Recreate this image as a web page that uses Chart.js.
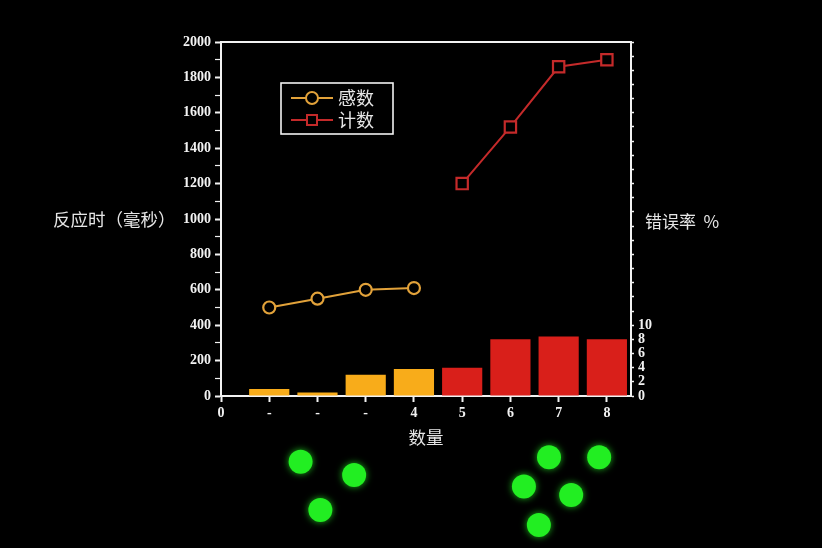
<!DOCTYPE html>
<html><head><meta charset="utf-8">
<script src="https://cdn.jsdelivr.net/npm/chart.js@4.4.1/dist/chart.umd.min.js"></script>
<style>html,body{margin:0;padding:0;background:#000;}
#wrap{position:relative;width:822px;height:548px;}
#c{position:absolute;left:0;top:0;}
#d{position:absolute;left:0;top:396px;}</style>
</head><body>
<div id="wrap">
<canvas id="c" width="822" height="548"></canvas>
<canvas id="d" width="822" height="152"></canvas>
</div>
<script>
// ---- data ----
const xTickLabels = ['0', '-', '-', '-', '4', '5', '6', '7', '8'];
const subitizeX = [1, 2, 3, 4];
const subitizeRT = [500, 550, 600, 610];
const countX = [5, 6, 7, 8];
const countRT = [1200, 1520, 1860, 1900];
const subitizeErr = [1.0, 0.5, 3.0, 3.8];
const countErr = [4.0, 8.0, 8.4, 8.0];
// green dots below the plot (x in quantity units, y in the same ms units, below zero)
const dotsX = [1.65, 2.76, 2.06, 6.80, 7.84, 6.28, 7.26, 6.59];
const dotsY = [-371, -446, -644, -346, -346, -512, -559, -729];
const legendLabels = ['感数', '计数'];
const leftTitle = '反应时（毫秒）';
const rightTitle = '错误率 %';
const bottomTitle = '数量';

const ORANGE_LINE = '#E2A23A', RED_LINE = '#C42A2A';
const ORANGE_BAR = '#F8AC1A', RED_BAR = '#D91F1A';
const WHITE = '#F2F2F2';
const tickFont = { family: 'Liberation Serif', size: 14, weight: 'bold' };
const cjk = '"Noto Sans CJK SC", sans-serif';

const pts = (xs, ys) => xs.map((x, i) => ({ x, y: ys[i] }));

const bgPlugin = {
  id: 'bg',
  beforeDraw(chart) {
    const c = chart.ctx; c.save(); c.fillStyle = '#000';
    c.fillRect(0, 0, chart.width, chart.height); c.restore();
  },
  afterDraw(chart) {
    const c = chart.ctx, a = chart.chartArea;
    c.save();
    c.strokeStyle = WHITE; c.lineWidth = 2;
    c.beginPath(); c.moveTo(a.left, a.top); c.lineTo(a.right, a.top); c.stroke();
    c.fillStyle = '#E6E6E6'; c.textBaseline = 'middle';
    c.font = '17.5px ' + cjk;
    c.textAlign = 'left';
    c.fillText(leftTitle, 53, (a.top + a.bottom) / 2);
    c.font = '17px ' + cjk;
    c.fillText(rightTitle.replace(' ', '  '), a.right + 14, (a.top + a.bottom) / 2 + 3);
    c.font = '17.5px ' + cjk;
    c.textAlign = 'center';
    c.fillText(bottomTitle, 426, a.bottom + 41);
    // legend box
    const lx = a.left + 60, ly = a.top + 41, lw = 112, lh = 51;
    c.strokeStyle = WHITE; c.lineWidth = 1.6;
    c.strokeRect(lx, ly, lw, lh);
    [chart.data.datasets[0], chart.data.datasets[1]].forEach((ds, i) => {
      const y = ly + 15 + i * 22;
      c.strokeStyle = ds.borderColor; c.lineWidth = 2;
      c.beginPath(); c.moveTo(lx + 10, y); c.lineTo(lx + 52, y); c.stroke();
      c.fillStyle = '#000'; c.lineWidth = 2;
      if (ds.pointStyle === 'circle') {
        c.beginPath(); c.arc(lx + 31, y, 6, 0, Math.PI * 2); c.fill(); c.stroke();
      } else {
        c.fillRect(lx + 26, y - 5, 10, 10); c.strokeRect(lx + 26, y - 5, 10, 10);
      }
      c.fillStyle = '#E6E6E6'; c.font = '18px ' + cjk; c.textAlign = 'left';
      c.fillText(legendLabels[i], lx + 57, y);
    });
    c.restore();
  }
};

new Chart(document.getElementById('c'), {
  type: 'bar',
  data: {
    datasets: [
      { type: 'line', label: legendLabels[0], data: pts(subitizeX, subitizeRT), yAxisID: 'y',
        borderColor: ORANGE_LINE, borderWidth: 2, pointStyle: 'circle', pointRadius: 6,
        pointBackgroundColor: '#000', pointBorderColor: ORANGE_LINE, pointBorderWidth: 2.2, order: 0 },
      { type: 'line', label: legendLabels[1], data: pts(countX, countRT), yAxisID: 'y',
        borderColor: RED_LINE, borderWidth: 2, pointStyle: 'rect', pointRadius: 8,
        pointBackgroundColor: '#000', pointBorderColor: RED_LINE, pointBorderWidth: 2.2, order: 0 },
      { type: 'bar', data: pts(subitizeX, subitizeErr), yAxisID: 'yR', grouped: false,
        backgroundColor: ORANGE_BAR, borderWidth: 0, barPercentage: 1, categoryPercentage: 0.833, order: 2 },
      { type: 'bar', data: pts(countX, countErr), yAxisID: 'yR', grouped: false,
        backgroundColor: RED_BAR, borderWidth: 0, barPercentage: 1, categoryPercentage: 0.833, order: 2 }
    ]
  },
  options: {
    responsive: false, animation: false,
    layout: { autoPadding: false, padding: { top: 42, left: 0, right: 0, bottom: 0 } },
    plugins: { legend: { display: false }, tooltip: { enabled: false } },
    scales: {
      x: {
        type: 'linear', position: 'bottom', min: 0, max: 8.5, offset: false,
        afterBuildTicks: s => { s.ticks = xTickLabels.map((_, i) => ({ value: i })); },
        afterFit: s => { s.height = 152; },
        ticks: { stepSize: 1, autoSkip: false, maxRotation: 0, color: WHITE, font: tickFont, padding: 3,
          callback: v => (xTickLabels[v] !== undefined ? xTickLabels[v] : '') },
        grid: { display: true, offset: false, drawOnChartArea: false, drawTicks: true, tickLength: 6, tickColor: WHITE, tickWidth: 2 },
        border: { display: true, color: WHITE, width: 2 }
      },
      y: {
        position: 'left', min: 0, max: 2000,
        afterFit: s => { s.width = 221; },
        ticks: { stepSize: 100, autoSkip: false, color: WHITE, font: tickFont, padding: 4,
          callback: v => (v % 200 === 0 ? v : '') },
        grid: { display: true, drawOnChartArea: false, tickLength: 6, tickColor: WHITE,
          tickWidth: ctx => (ctx.tick && ctx.tick.value % 200 === 0 ? 2 : 1.2) },
        border: { display: true, color: WHITE, width: 2 }
      },
      yR: {
        position: 'right', min: 0, max: 50,
        afterFit: s => { s.width = 191; },
        ticks: { stepSize: 2, autoSkip: false, color: WHITE, font: tickFont, padding: 4,
          callback: v => (v <= 10 ? v : '') },
        grid: { display: true, drawOnChartArea: false, tickLength: 3, tickColor: WHITE, tickWidth: 1.5 },
        border: { display: true, color: WHITE, width: 2 }
      }
    }
  },
  plugins: [bgPlugin]
});

// second, transparent chart below the plot for the green dots, sharing the same x range
const glow = {
  id: 'glow',
  beforeDatasetsDraw(chart) { const c = chart.ctx; c.save(); c.shadowColor = 'rgba(40,255,40,0.7)'; c.shadowBlur = 7; },
  afterDatasetsDraw(chart) { chart.ctx.restore(); }
};
new Chart(document.getElementById('d'), {
  type: 'scatter',
  data: { datasets: [{ data: pts(dotsX, dotsY), pointRadius: 12, pointBackgroundColor: '#22EE22', pointBorderWidth: 0, clip: false }] },
  options: {
    responsive: false, animation: false,
    layout: { autoPadding: false, padding: { left: 221, right: 191, top: 0, bottom: 0 } },
    plugins: { legend: { display: false }, tooltip: { enabled: false } },
    scales: {
      x: { type: 'linear', display: false, min: 0, max: 8.5 },
      y: { type: 'linear', display: false, min: -859, max: 0 }
    }
  },
  plugins: [glow]
});
</script>
</body></html>
